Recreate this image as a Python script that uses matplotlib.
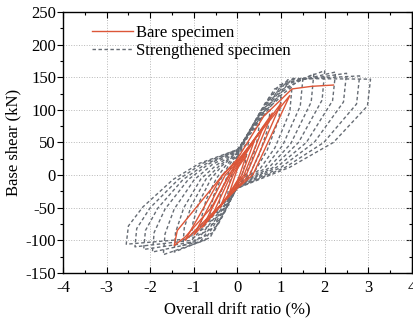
import matplotlib
matplotlib.use("Agg")
import matplotlib.pyplot as plt
from matplotlib.ticker import MultipleLocator, NullFormatter

plt.rcParams['font.family'] = ['Liberation Serif', 'DejaVu Serif']
plt.rcParams['axes.unicode_minus'] = False

# ---------------- Strengthened specimen (12 amplitude levels) ----------------
# positive peak
s_px = [0.25, 0.5, 0.75, 1.0, 1.25, 1.5, 1.75, 2.0, 2.25, 2.5, 2.8, 3.05]
s_py = [50, 78, 100, 120, 135, 148, 155, 160, 158, 156, 152, 147]
# positive loading mid point
s_lpx = [0.12, 0.25, 0.35, 0.45, 0.55, 0.65, 0.75, 0.85, 0.95, 1.05, 1.15, 1.25]
s_lpy = [42, 60, 75, 88, 100, 112, 122, 132, 138, 142, 146, 148]
# positive unloading branch points
s_u1x = [0.22, 0.46, 0.7, 0.95, 1.2, 1.44, 1.69, 1.94, 2.18, 2.43, 2.73, 2.98]
s_u1y = [36, 56, 72, 86, 97, 106, 112, 115, 114, 112, 109, 106]
s_u2x = [0.17, 0.34, 0.5, 0.68, 0.86, 1.04, 1.22, 1.4, 1.58, 1.76, 1.98, 2.2]
s_u2y = [15, 24, 32, 38, 42, 46, 48, 50, 50, 50, 50, 50]
s_u3x = [0.1, 0.2, 0.3, 0.4, 0.5, 0.6, 0.7, 0.8, 0.9, 1.0, 1.1, 1.2]
s_u3y = [0, 2, 4, 6, 8, 9, 10, 11, 12, 12, 12, 12]
# crossing of zero drift
s_cneg = [-10, -12, -14, -15, -16, -17, -18, -18, -19, -20, -20, -20]
s_cpos = [28, 30, 32, 33, 34, 35, 36, 37, 38, 38, 39, 39]
# negative loading mid point
s_lnx = [-0.1, -0.2, -0.3, -0.38, -0.46, -0.55, -0.63, -0.75, -0.85, -0.95, -1.05, -1.15]
s_lny = [-32, -46, -58, -68, -78, -88, -96, -100, -102, -102, -100, -98]
# negative peak
s_nx = [-0.25, -0.45, -0.65, -0.85, -1.05, -1.25, -1.45, -1.7, -1.95, -2.15, -2.35, -2.55]
s_ny = [-40, -58, -72, -85, -97, -108, -118, -122, -118, -114, -110, -106]
# negative unloading branch points
s_l1x = [-0.22, -0.42, -0.62, -0.82, -1.02, -1.22, -1.42, -1.66, -1.91, -2.11, -2.31, -2.5]
s_l1y = [-30, -44, -54, -64, -73, -81, -88, -90, -88, -85, -82, -78]
s_l2x = [-0.21, -0.38, -0.55, -0.72, -0.89, -1.06, -1.23, -1.45, -1.66, -1.83, -2.0, -2.17]
s_l2y = [-18, -26, -32, -38, -43, -47, -50, -52, -52, -51, -50, -49]
s_l3x = [-0.15, -0.26, -0.38, -0.49, -0.61, -0.72, -0.84, -0.99, -1.13, -1.25, -1.36, -1.48]
s_l3y = [-5, -6, -6, -6, -6, -6, -6, -7, -7, -7, -7, -7]
s_l4x = [-0.08, -0.15, -0.22, -0.29, -0.36, -0.42, -0.49, -0.58, -0.66, -0.73, -0.8, -0.87]
s_l4y = [12, 12, 13, 13, 14, 14, 15, 16, 17, 17, 18, 18]

# ---------------- Bare specimen ----------------
b_px = [0.2, 0.4, 0.6, 0.8, 1.0, 1.2]
b_py = [30, 55, 75, 95, 110, 122]
b_ux = [0.05, 0.1, 0.15, 0.2, 0.28, 0.35]
b_nc = [-8, -10, -12, -15, -18, -20]
b_nx = [-0.2, -0.4, -0.6, -0.8, -1.0, -1.2]
b_ny = [-30, -50, -65, -80, -92, -100]
b_lx = [-0.05, -0.1, -0.15, -0.2, -0.28, -0.35]
b_pc = [10, 12, 15, 18, 20, 22]
# final excursion of bare specimen
b_fin_x = [0.0, -0.6, -1.2, -1.45, -1.38, -0.4, 0.0, 0.6, 1.25, 1.7, 2.2]
b_fin_y = [22, -50, -95, -108, -85, -5, 25, 90, 132, 136, 138]

fig = plt.figure(figsize=(4.13, 3.23), dpi=100)
ax = fig.add_axes([0.1525, 0.155, 0.845, 0.808])

gray = '#666c74'
red = '#dc5638'

for i in range(len(s_px)):
    xs = [0, s_lpx[i], s_px[i], s_u1x[i], s_u2x[i], s_u3x[i], 0,
          s_lnx[i], s_nx[i], s_l1x[i], s_l2x[i], s_l3x[i], s_l4x[i], 0]
    ys = [s_cpos[i], s_lpy[i], s_py[i], s_u1y[i], s_u2y[i], s_u3y[i], s_cneg[i],
          s_lny[i], s_ny[i], s_l1y[i], s_l2y[i], s_l3y[i], s_l4y[i], s_cpos[i]]
    ax.plot(xs, ys, color=gray, lw=1.0, ls=(0, (2.5, 1.8)), zorder=2,
            label='Strengthened specimen' if i == 0 else None)

for i in range(len(b_px)):
    xs = [0, b_px[i], b_ux[i], 0, b_nx[i], b_lx[i], 0]
    ys = [b_pc[i], b_py[i], 0, b_nc[i], b_ny[i], 0, b_pc[i]]
    ax.plot(xs, ys, color=red, lw=1.0, zorder=3,
            label='Bare specimen' if i == 0 else None)
ax.plot(b_fin_x, b_fin_y, color=red, lw=1.0, zorder=3)

ax.set_xlim(-4, 4)
ax.set_ylim(-150, 250)
ax.xaxis.set_major_locator(MultipleLocator(1))
ax.xaxis.set_minor_locator(MultipleLocator(0.5))
ax.yaxis.set_major_locator(MultipleLocator(50))
ax.yaxis.set_minor_locator(MultipleLocator(25))
ax.tick_params(axis='x', which='both', direction='in', top=True, labelsize=12, pad=5)
ax.tick_params(axis='y', which='both', direction='out', labelsize=12, pad=1)
ax.tick_params(which='major', length=4, width=0.8)
ax.tick_params(which='minor', length=2, width=0.8)

sec = ax.secondary_yaxis('right')
sec.yaxis.set_major_locator(MultipleLocator(50))
sec.yaxis.set_minor_locator(MultipleLocator(25))
sec.yaxis.set_major_formatter(NullFormatter())
sec.tick_params(which='both', direction='in', width=0.8)
sec.tick_params(which='major', length=4)
sec.tick_params(which='minor', length=2)

ax.grid(True, which='major', color='#b8b8b8', ls=':', lw=0.7)
for s in ax.spines.values():
    s.set_linewidth(1.0)

ax.set_xlabel('Overall drift ratio (%)', fontsize=12, labelpad=4)
ax.set_ylabel('Base shear (kN)', fontsize=12, labelpad=3)

h, l = ax.get_legend_handles_labels()
order = [l.index('Bare specimen'), l.index('Strengthened specimen')]
ax.legend([h[k] for k in order], [l[k] for k in order], loc='upper left',
          bbox_to_anchor=(0.055, 0.99), frameon=False, fontsize=12,
          handlelength=2.45, handletextpad=0.2, labelspacing=0.15,
          borderaxespad=0.2)

fig.savefig('out.png', dpi=100)
